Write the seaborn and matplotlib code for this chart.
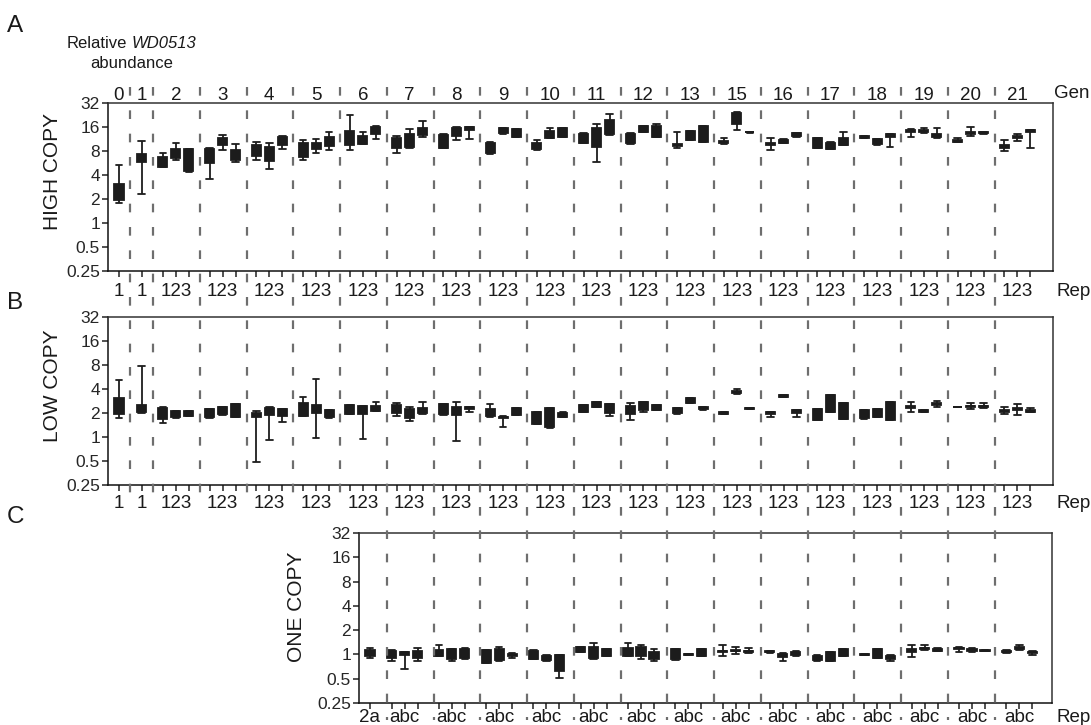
import numpy as np
import pandas as pd
import seaborn as sns
import matplotlib.pyplot as plt
from matplotlib.ticker import NullLocator

W, H = 1091, 725

# generations sampled and the replicate labels under each column
gens = [0, 1, 2, 3, 4, 5, 6, 7, 8, 9, 10, 11, 12, 13, 15, 16, 17, 18, 19, 20, 21]
ab_rep_labels = ['1', '1'] + ['123'] * 19
c_gens = [7, 8, 9, 10, 11, 12, 13, 15, 16, 17, 18, 19, 20, 21]
c_rep_labels = ['2a'] + ['abc'] * 14
yticks = [0.25, 0.5, 1, 2, 4, 8, 16, 32]
ytick_labels = ['0.25', '0.5', '1', '2', '4', '8', '16', '32']

# each box: low whisker, q1, median, q3, high whisker
high_copy = [
    [1.78, 1.94, 2.4, 3.08, 5.3],
    [2.31, 5.9, 6.6, 7.4, 10.7],
    [5.0, 5.1, 5.8, 6.7, 7.5], [6.1, 6.6, 7.5, 8.4, 10.1], [4.4, 4.45, 6.0, 8.4, 8.5],
    [3.58, 5.6, 6.9, 8.4, 8.8], [8.3, 9.4, 10.5, 11.5, 12.7], [5.8, 6.1, 7.2, 8.3, 9.7],
    [6.2, 6.9, 8.0, 9.5, 10.35], [4.8, 6.0, 7.2, 9.0, 10.2], [8.4, 9.5, 10.5, 11.9, 12.4],
    [6.1, 6.7, 8.0, 10.0, 11.1], [7.6, 8.4, 9.2, 10.0, 11.2], [8.2, 9.2, 10.5, 12.1, 13.9],
    [8.2, 9.5, 11.5, 14.2, 22.5], [9.8, 9.9, 11.0, 12.4, 13.8], [11.2, 12.9, 14.5, 16.2, 16.3],
    [7.6, 8.8, 10.0, 11.7, 12.5], [8.8, 9.0, 10.8, 12.9, 15.3], [12.1, 12.7, 14.0, 15.6, 18.9],
    [8.8, 8.85, 10.5, 12.7, 12.9], [11.0, 12.3, 14.0, 15.6, 15.8], [11.2, 14.5, 15.2, 16.1, 16.2],
    [7.3, 7.5, 8.6, 10.0, 10.3], [13.2, 13.3, 14.3, 15.5, 15.6], [12.0, 12.1, 13.5, 15.0, 15.1],
    [8.35, 8.4, 9.2, 10.06, 10.9], [11.6, 11.7, 12.9, 14.2, 15.6], [11.9, 11.95, 13.7, 15.6, 15.7],
    [10.1, 10.2, 11.5, 13.15, 13.3], [5.8, 9.06, 11.5, 15.6, 17.5], [12.7, 13.15, 16.0, 19.7, 23.3],
    [9.9, 9.97, 11.3, 12.9, 13.5], [13.7, 13.8, 15.0, 16.4, 16.5], [11.9, 11.95, 14.5, 16.7, 17.7],
    [8.8, 9.3, 9.5, 9.7, 13.9], [10.9, 10.97, 12.5, 14.2, 14.3], [10.3, 10.35, 13.0, 16.4, 16.5],
    [9.7, 9.97, 10.3, 10.66, 11.7], [14.75, 17.2, 20.5, 24.0, 24.5], [13.5, 13.7, 13.8, 13.9, 14.0],
    [8.2, 9.6, 9.8, 10.0, 11.7], [10.1, 10.2, 10.6, 11.07, 11.2], [12.1, 12.2, 12.8, 13.4, 13.5],
    [8.7, 8.8, 10.0, 11.7, 11.8], [8.5, 8.56, 9.3, 10.2, 10.3], [9.4, 9.5, 10.5, 11.7, 13.8],
    [11.5, 11.7, 12.0, 12.2, 12.5], [9.6, 9.7, 10.4, 11.2, 11.3], [9.06, 11.9, 12.5, 12.9, 13.0],
    [12.1, 13.8, 14.2, 14.6, 15.3], [13.3, 13.8, 14.3, 14.8, 15.6], [11.7, 12.0, 12.5, 13.0, 15.5],
    [10.35, 10.5, 10.8, 11.0, 11.7], [12.3, 12.9, 13.4, 13.8, 16.1], [13.2, 13.3, 13.6, 13.8, 13.9],
    [8.0, 8.8, 9.3, 9.6, 11.07], [10.66, 11.5, 12.0, 12.4, 13.15], [8.7, 13.8, 14.2, 14.6, 14.75],
]

low_copy = [
    [1.71, 1.94, 2.5, 3.05, 5.2],
    [2.0, 2.04, 2.3, 2.52, 7.8],
    [1.51, 1.67, 1.95, 2.29, 2.35], [1.75, 1.76, 1.95, 2.12, 2.13], [1.82, 1.83, 1.97, 2.12, 2.13],
    [1.75, 1.76, 2.0, 2.22, 2.23], [1.91, 1.92, 2.15, 2.40, 2.41], [1.79, 1.80, 2.15, 2.59, 2.6],
    [0.49, 1.76, 1.9, 2.02, 2.14], [0.92, 1.89, 2.1, 2.33, 2.35], [1.54, 1.83, 2.0, 2.25, 2.26],
    [1.82, 1.83, 2.2, 2.64, 3.2], [0.98, 1.98, 2.25, 2.52, 5.34], [1.75, 1.76, 1.95, 2.18, 2.19],
    [1.93, 1.94, 2.2, 2.52, 2.53], [0.935, 1.94, 2.2, 2.45, 2.47], [2.13, 2.14, 2.3, 2.47, 2.77],
    [1.85, 1.98, 2.2, 2.52, 2.64], [1.6, 1.71, 1.95, 2.22, 2.36], [1.97, 1.98, 2.15, 2.29, 2.77],
    [1.88, 1.94, 2.2, 2.59, 2.6], [0.89, 1.89, 2.1, 2.36, 2.77], [2.07, 2.22, 2.3, 2.40, 2.41],
    [1.77, 1.83, 2.0, 2.25, 2.57], [1.35, 1.72, 1.76, 1.80, 1.81], [1.88, 1.89, 2.1, 2.33, 2.34],
    [1.45, 1.46, 1.75, 2.04, 2.05], [1.29, 1.32, 1.8, 2.33, 2.34], [1.79, 1.80, 1.9, 2.02, 2.03],
    [2.03, 2.04, 2.3, 2.52, 2.53], [2.35, 2.36, 2.5, 2.72, 2.73], [1.85, 2.02, 2.3, 2.57, 2.58],
    [1.63, 1.94, 2.2, 2.45, 2.70], [2.07, 2.18, 2.4, 2.73, 2.75], [2.17, 2.18, 2.35, 2.52, 2.53],
    [1.97, 1.98, 2.1, 2.29, 2.3], [2.69, 2.70, 2.9, 3.11, 3.12], [2.21, 2.22, 2.28, 2.36, 2.37],
    [1.93, 1.94, 2.0, 2.07, 2.08], [3.46, 3.55, 3.65, 3.8, 3.96], [2.26, 2.27, 2.29, 2.31, 2.32],
    [1.80, 1.97, 2.0, 2.04, 2.07], [3.13, 3.14, 3.25, 3.40, 3.41], [1.76, 2.02, 2.1, 2.18, 2.19],
    [1.62, 1.63, 1.9, 2.25, 2.26], [2.06, 2.07, 2.6, 3.36, 3.37], [1.66, 1.67, 2.1, 2.64, 2.65],
    [1.70, 1.71, 1.9, 2.18, 2.19], [1.79, 1.80, 2.0, 2.25, 2.26], [1.62, 1.63, 2.1, 2.72, 2.73],
    [2.07, 2.29, 2.4, 2.47, 2.77], [2.03, 2.04, 2.1, 2.18, 2.19], [2.40, 2.52, 2.6, 2.70, 2.80],
    [2.35, 2.36, 2.38, 2.40, 2.41], [2.25, 2.36, 2.42, 2.47, 2.64], [2.29, 2.36, 2.42, 2.47, 2.64],
    [1.94, 2.07, 2.12, 2.18, 2.36], [1.89, 2.18, 2.22, 2.29, 2.57], [2.04, 2.07, 2.12, 2.18, 2.33],
]

one_copy = [
    [0.90, 0.96, 1.03, 1.13, 1.21],
    [0.83, 0.91, 1.0, 1.11, 1.15], [0.66, 0.97, 1.0, 1.07, 1.08], [0.83, 0.91, 1.0, 1.11, 1.21],
    [0.95, 0.96, 1.05, 1.13, 1.30], [0.83, 0.87, 1.0, 1.16, 1.17], [0.88, 0.90, 1.03, 1.16, 1.21],
    [0.78, 0.79, 0.95, 1.13, 1.14], [0.84, 0.85, 1.0, 1.16, 1.24], [0.90, 0.96, 0.98, 1.0, 1.04],
    [0.88, 0.89, 1.0, 1.11, 1.12], [0.84, 0.85, 0.9, 0.96, 0.97], [0.51, 0.63, 0.8, 0.976, 0.98],
    [1.08, 1.085, 1.15, 1.24, 1.25], [0.87, 0.91, 1.05, 1.24, 1.37], [0.95, 0.96, 1.05, 1.16, 1.17],
    [0.95, 0.96, 1.08, 1.21, 1.38], [0.88, 0.96, 1.08, 1.24, 1.30], [0.83, 0.87, 0.97, 1.085, 1.16],
    [0.86, 0.87, 1.0, 1.16, 1.17], [0.98, 0.99, 1.0, 1.01, 1.02], [0.95, 0.96, 1.05, 1.16, 1.17],
    [0.96, 1.08, 1.1, 1.11, 1.30], [1.0, 1.09, 1.1, 1.13, 1.24], [1.03, 1.08, 1.1, 1.11, 1.21],
    [1.05, 1.06, 1.08, 1.1, 1.11], [0.83, 0.93, 0.97, 1.0, 1.04], [0.96, 0.98, 1.03, 1.06, 1.11],
    [0.84, 0.85, 0.9, 0.96, 0.97], [0.82, 0.83, 0.95, 1.06, 1.07], [0.95, 0.96, 1.05, 1.16, 1.17],
    [0.97, 0.98, 0.99, 1.0, 1.01], [0.90, 0.91, 1.02, 1.16, 1.17], [0.83, 0.89, 0.93, 0.96, 0.98],
    [0.94, 1.085, 1.12, 1.16, 1.30], [1.13, 1.16, 1.19, 1.21, 1.30], [1.10, 1.11, 1.14, 1.18, 1.19],
    [1.085, 1.16, 1.19, 1.21, 1.24], [1.075, 1.11, 1.14, 1.16, 1.19], [1.09, 1.10, 1.11, 1.12, 1.13],
    [1.04, 1.06, 1.08, 1.1, 1.13], [1.13, 1.18, 1.21, 1.24, 1.30], [0.98, 1.03, 1.06, 1.08, 1.11],
]

sns.set_style('ticks')
plt.rcParams['font.family'] = ['Liberation Sans', 'DejaVu Sans']
plt.rcParams['text.color'] = '#1a1a1a'

# layout in pixel units: the x data of every panel is the pixel column
edges = [108, 130] + [153 + 46.75 * k for k in range(19)]


def fx(x):
    return x / W


def fy(y):
    return 1 - y / H


# box positions and label centres for panels A and B
ab_pos, ab_centres = [], []
for i, g in enumerate(gens):
    if i < 2:
        p = (edges[i] + edges[i + 1]) / 2
        ab_pos.append(p)
        ab_centres.append(p)
    else:
        ab_pos += [edges[i] + 9.8 + 13 * j for j in range(3)]
        ab_centres.append(edges[i] + 22.8)

# panel C: one '2a' box in the generation 6 column, then abc triplets
c_pos = [edges[gens.index(6)] + 30]
c_centres = [c_pos[0]]
for m, g in enumerate(c_gens):
    i = gens.index(g)
    shift = -5 + 7 * m / 13
    c_pos += [edges[i] + 9.8 + shift + 13 * j for j in range(3)]
    c_centres.append(edges[i] + 22.8 + shift)


def long_frame(boxes, xs):
    rows = [(x, v) for x, b in zip(xs, boxes) for v in b]
    return pd.DataFrame(rows, columns=['x', 'value'])


fig = plt.figure(figsize=(W / 100, H / 100), dpi=100)


def panel(box, boxes, xs, centres, rep_labels, ylabel, ylab_xy, rep_base):
    x0, y0, x1, y1 = box
    ax = fig.add_axes([fx(x0), fy(y1), (x1 - x0) / W, (y1 - y0) / H])
    df = long_frame(boxes, xs)
    sns.boxplot(data=df, x='x', y='value', native_scale=True, log_scale=(False, 2),
                whis=(0, 100), width=0.7, color='#1c1c1c', linecolor='#1c1c1c',
                saturation=1, linewidth=1.3, fliersize=0, capwidths=6.5, ax=ax)
    ax.set_xlim(x0, x1)
    ax.set_ylim(0.25, 32)
    ax.set_yticks(yticks)
    ax.set_yticklabels(ytick_labels)
    ax.yaxis.set_minor_locator(NullLocator())
    ax.xaxis.set_minor_locator(NullLocator())
    ax.set_xticks(xs)
    ax.set_xticklabels([''] * len(xs))
    ax.set_xlabel('')
    ax.set_ylabel('')
    ax.tick_params(axis='y', length=4.3, width=1.1, pad=1.5, labelsize=12.5, color='#222222')
    ax.tick_params(axis='x', length=4, width=1.1, color='#222222')
    for s in ax.spines.values():
        s.set_visible(True)
        s.set_linewidth(1.1)
        s.set_color('#333333')
    for s in ['left', 'bottom']:
        ax.spines[s].set_color('#111111')
    fig.text(fx(ylab_xy[0]), fy(ylab_xy[1]), ylabel, rotation=90, ha='center', va='center',
             fontsize=15)
    for c, lab in zip(centres, rep_labels):
        fig.text(fx(c), fy(rep_base), lab, ha='center', va='baseline', fontsize=13.5)
    fig.text(fx(1057), fy(rep_base), 'Rep', ha='left', va='baseline', fontsize=13.5)
    return ax


axA = panel((108, 103, 1053, 271), high_copy, ab_pos, ab_centres, ab_rep_labels,
            'HIGH COPY', (53, 172), 296.5)
axB = panel((108, 317, 1053, 485), low_copy, ab_pos, ab_centres, ab_rep_labels,
            'LOW COPY', (53, 386), 508)
axC = panel((359, 533, 1052, 703), one_copy, c_pos, c_centres, c_rep_labels,
            'ONE COPY', (297, 607), 721.5)

# generation numbers above panel A
for c, g in zip(ab_centres, gens):
    fig.text(fx(c), fy(99.5), str(g), ha='center', va='baseline', fontsize=13.5)
fig.text(fx(1054), fy(98.5), 'Gen', ha='left', va='baseline', fontsize=13.5)

# dashed column separators running through the panels
over = fig.add_axes([0, 0, 1, 1])
over.set_xlim(0, W)
over.set_ylim(H, 0)
over.axis('off')
over.patch.set_visible(False)
seps = edges[1:]
early = [s for s in seps if s < 380]
late = [s for s in seps if s >= 380]
dash = (0, (3.9, 6.6))
over.vlines(early, 87, 507, colors='#6e6e6e', linewidth=1.6, linestyles=[dash])
over.vlines(late, 87, 720, colors='#6e6e6e', linewidth=1.6, linestyles=[dash])

# panel letters and the axis caption
fig.text(fx(7), fy(32), 'A', fontsize=17.5, va='baseline')
fig.text(fx(7), fy(309), 'B', fontsize=17.5, va='baseline')
fig.text(fx(7), fy(523), 'C', fontsize=17.5, va='baseline')
fig.text(fx(127), fy(48), 'Relative', ha='right', va='baseline', fontsize=12)
fig.text(fx(131.5), fy(48), 'WD0513', ha='left', va='baseline', fontsize=12, style='italic')
fig.text(fx(132), fy(68), 'abundance', ha='center', va='baseline', fontsize=12)

fig.savefig('out.png', dpi=100)
